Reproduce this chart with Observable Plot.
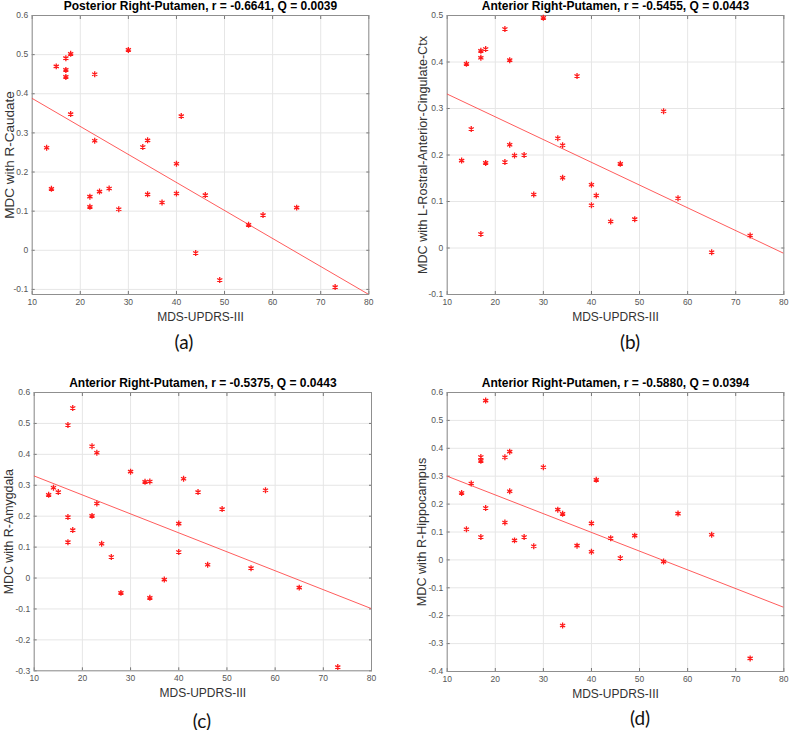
<!DOCTYPE html>
<html>
<head>
<meta charset="utf-8">
<script src="https://cdn.jsdelivr.net/npm/d3@7"></script>
<script src="https://cdn.jsdelivr.net/npm/@observablehq/plot@0.6"></script>
<style>
  html, body { margin: 0; padding: 0; background: #fff; }
  #root { position: relative; width: 789px; height: 730px; overflow: hidden; background: #fff; }
  .panel { position: absolute; }
  .sub { position: absolute; font-family: Lato, "Open Sans", sans-serif; font-size: 19px; color: #111; transform: translate(-50%, -50%); white-space: nowrap; }
</style>
</head>
<body>
<div id="root"></div>
<script>
// ---------- data ----------
const mdsUpdrs = [13,14,15,17,17,17,18,18,22,22,23,23,24,26,28,30,33,34,34,37,40,40,41,44,46,49,55,58,65,73];

const mdcCaudate = [0.262,0.157,0.470,0.491,0.461,0.443,0.502,0.348,0.137,0.111,0.450,0.280,0.150,0.158,0.105,0.512,0.264,0.281,0.143,0.122,0.221,0.145,0.343,-0.007,0.141,-0.076,0.065,0.090,0.109,-0.094];
const mdcRostralACC = [0.188,0.396,0.256,0.424,0.409,0.030,0.428,0.183,0.471,0.185,0.404,0.222,0.199,0.200,0.115,0.495,0.236,0.221,0.151,0.370,0.136,0.092,0.113,0.057,0.181,0.062,0.294,0.107,-0.009,0.027];
const mdcAmygdala = [0.269,0.292,0.278,0.495,0.197,0.116,0.550,0.155,0.426,0.201,0.405,0.241,0.111,0.068,-0.048,0.344,0.311,0.312,-0.064,-0.005,0.176,0.084,0.321,0.278,0.043,0.223,0.032,0.284,-0.031,-0.288];
const mdcHippocampus = [0.240,0.110,0.274,0.369,0.355,0.082,0.571,0.186,0.368,0.134,0.388,0.246,0.070,0.082,0.049,0.332,0.180,0.165,-0.235,0.051,0.131,0.029,0.287,0.078,0.007,0.087,-0.006,0.166,0.090,-0.353];

// least-squares line values read at x = 10 and x = 80
const fitX = [10, 80];
const fitCaudate = [0.388, -0.113];
const fitRostralACC = [0.331, -0.0115];
const fitAmygdala = [0.330, -0.099];
const fitHippocampus = [0.300, -0.170];

const xTicks = [10,20,30,40,50,60,70,80];
const yTicksA = [-0.1,0,0.1,0.2,0.3,0.4,0.5,0.6];
const yTicksB = [-0.1,0,0.1,0.2,0.3,0.4,0.5];
const yTicksC = [-0.3,-0.2,-0.1,0,0.1,0.2,0.3,0.4,0.5,0.6];
const yTicksD = [-0.4,-0.3,-0.2,-0.1,0,0.1,0.2,0.3,0.4,0.5,0.6];

const titles = [
  "Posterior Right-Putamen, r = -0.6641, Q = 0.0039",
  "Anterior Right-Putamen, r = -0.5455, Q = 0.0443",
  "Anterior Right-Putamen, r = -0.5375, Q = 0.0443",
  "Anterior Right-Putamen, r = -0.5880, Q = 0.0394"
];
const yLabels = ["MDC with R-Caudate","MDC with L-Rostral-Anterior-Cingulate-Ctx","MDC with R-Amygdala","MDC with R-Hippocampus"];
const xLabel = "MDS-UPDRS-III";
const subLabels = ["(a)","(b)","(c)","(d)"];

// ---------- layout ----------
const panels = [
  {y: mdcCaudate, fit: fitCaudate, yTicks: yTicksA, yDomain: [-0.113, 0.6], left: 0, top: 0, width: 390, height: 330, mL: 31.7, mR: 21.7, mT: 15, mB: 36, yLabOff: 23, yLabSize: 13.5, sub: [184, 341]},
  {y: mdcRostralACC, fit: fitRostralACC, yTicks: yTicksB, yDomain: [-0.1, 0.5], left: 395, top: 0, width: 394, height: 330, mL: 51.7, mR: 5.7, mT: 15, mB: 36, yLabOff: 24.7, yLabSize: 12.6, sub: [630, 341]},
  {y: mdcAmygdala, fit: fitAmygdala, yTicks: yTicksC, yDomain: [-0.3, 0.6], left: 0, top: 360, width: 390, height: 340, mL: 33.7, mR: 19, mT: 32, mB: 29.7, yLabOff: 25.4, yLabSize: 12.4, sub: [202, 720]},
  {y: mdcHippocampus, fit: fitHippocampus, yTicks: yTicksD, yDomain: [-0.4, 0.6], left: 395, top: 360, width: 394, height: 340, mL: 51.7, mR: 5.7, mT: 32, mB: 29, yLabOff: 25, yLabSize: 12.6, sub: [640, 717]}
];

const root = document.getElementById("root");
const fmt = d => String(d);
const tickColor = "#555";

panels.forEach((p, i) => {
  const pts = mdsUpdrs.map((x, j) => ({x, y: p.y[j]}));
  const line = fitX.map((x, j) => ({x, y: p.fit[j]}));
  const chart = Plot.plot({
    width: p.width,
    height: p.height,
    marginLeft: p.mL, marginRight: p.mR, marginTop: p.mT, marginBottom: p.mB,
    style: {fontFamily: "'Liberation Sans', Arial, Helvetica, sans-serif", background: "white", overflow: "visible"},
    x: {domain: [10, 80]},
    y: {domain: p.yDomain},
    marks: [
      Plot.gridX(xTicks, {stroke: "#e6e6e6", strokeOpacity: 1}),
      Plot.gridY(p.yTicks, {stroke: "#e6e6e6", strokeOpacity: 1}),
      Plot.axisX(xTicks, {anchor: "bottom", tickSize: 0, tickPadding: 4, tickFormat: fmt, fontSize: 8.5, fill: tickColor, label: null}),
      Plot.axisY(p.yTicks, {anchor: "left", tickSize: 0, tickPadding: 4, tickFormat: fmt, fontSize: 8.5, fill: tickColor, label: null}),
      Plot.axisX(xTicks, {anchor: "bottom", tickSize: -3, stroke: "#777", tickFormat: () => "", label: null}),
      Plot.axisX(xTicks, {anchor: "top", tickSize: -3, stroke: "#777", tickFormat: () => "", label: null}),
      Plot.axisY(p.yTicks, {anchor: "left", tickSize: -3, stroke: "#777", tickFormat: () => "", label: null}),
      Plot.axisY(p.yTicks, {anchor: "right", tickSize: -3, stroke: "#777", tickFormat: () => "", label: null}),
      Plot.frame({stroke: "#8f8f8f", strokeWidth: 1}),
      Plot.line(line, {x: "x", y: "y", stroke: "#ff4a4a", strokeWidth: 0.9, clip: true}),
      Plot.dot(pts, {x: "x", y: "y", symbol: "asterisk", r: 2.8, stroke: "#ff1a1a", strokeWidth: 1.3}),
      Plot.text([titles[i]], {frameAnchor: "top", lineAnchor: "middle", textAnchor: "middle", dy: -9, fontWeight: "bold", fontSize: 12, fill: "#000"}),
      Plot.text([xLabel], {frameAnchor: "bottom", lineAnchor: "middle", textAnchor: "middle", dy: 22.7, fontSize: 12, fill: "#333"}),
      Plot.text([yLabels[i]], {frameAnchor: "left", lineAnchor: "middle", textAnchor: "middle", rotate: -90, dx: -p.yLabOff, fontSize: p.yLabSize, fill: "#333"})
    ]
  });
  chart.classList.add("panel");
  chart.style.left = p.left + "px";
  chart.style.top = p.top + "px";
  root.appendChild(chart);

  const s = document.createElement("div");
  s.className = "sub";
  s.textContent = subLabels[i];
  s.style.left = p.sub[0] + "px";
  s.style.top = p.sub[1] + "px";
  root.appendChild(s);
});
</script>
</body>
</html>
